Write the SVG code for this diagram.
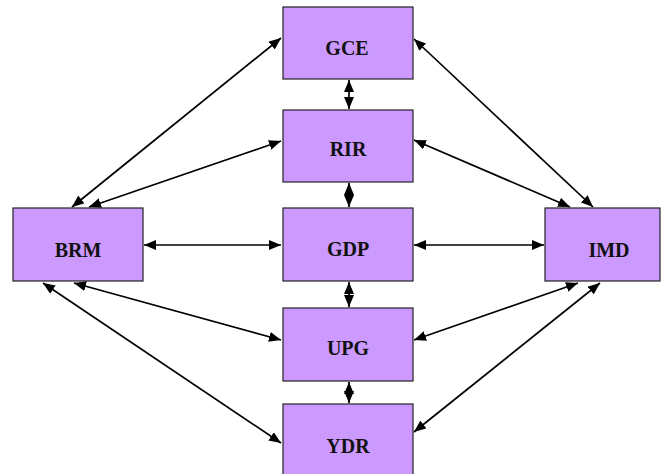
<svg xmlns="http://www.w3.org/2000/svg" width="663" height="474" viewBox="0 0 663 474">
<defs>
<marker id="ah" viewBox="0 0 12 10" refX="12" refY="5" markerWidth="12" markerHeight="10" markerUnits="userSpaceOnUse" orient="auto-start-reverse">
<path d="M0,0 L12,5 L0,10 Z" fill="#000"/>
</marker>
<style>
.box{fill:#CC99FF;stroke:#222;stroke-width:1.2}
.lbl{font-family:"Liberation Serif",serif;font-weight:bold;font-size:20px;fill:#111;text-anchor:middle;dominant-baseline:central}
.c{stroke:#000;stroke-width:1.7;fill:none;marker-start:url(#ah);marker-end:url(#ah)}
</style>
</defs>
<rect width="663" height="474" fill="#fff"/>
<g id="connectors">
<line class="c" x1="349" y1="80" x2="349" y2="109"/>
<line class="c" x1="349" y1="183" x2="349" y2="207"/>
<line class="c" x1="349" y1="282" x2="349" y2="307"/>
<line class="c" x1="349" y1="382" x2="349" y2="403"/>
<line class="c" x1="72" y1="207" x2="281" y2="38"/>
<line class="c" x1="89" y1="207" x2="281" y2="141"/>
<line class="c" x1="144" y1="245" x2="281" y2="245"/>
<line class="c" x1="74" y1="283" x2="281" y2="340"/>
<line class="c" x1="43" y1="283" x2="281" y2="443"/>
<line class="c" x1="414" y1="39" x2="593" y2="207"/>
<line class="c" x1="414" y1="140" x2="570" y2="207"/>
<line class="c" x1="414" y1="245" x2="544" y2="245"/>
<line class="c" x1="414" y1="340" x2="578" y2="283"/>
<line class="c" x1="414" y1="432" x2="600" y2="283"/>
</g>
<g id="GCE"><rect class="box" x="283" y="7" width="130" height="72"/><text class="lbl" x="347" y="48">GCE</text></g>
<g id="RIR"><rect class="box" x="283" y="110" width="130" height="72"/><text class="lbl" x="348" y="149">RIR</text></g>
<g id="GDP"><rect class="box" x="283" y="208" width="130" height="73"/><text class="lbl" x="348" y="249">GDP</text></g>
<g id="UPG"><rect class="box" x="283" y="308" width="130" height="73"/><text class="lbl" x="348" y="348">UPG</text></g>
<g id="YDR"><rect class="box" x="283" y="404" width="130" height="72"/><text class="lbl" x="348" y="446">YDR</text></g>
<g id="BRM"><rect class="box" x="13" y="208" width="130" height="73"/><text class="lbl" x="78" y="250">BRM</text></g>
<g id="IMD"><rect class="box" x="545" y="208" width="115" height="73"/><text class="lbl" x="609" y="250">IMD</text></g>
</svg>
